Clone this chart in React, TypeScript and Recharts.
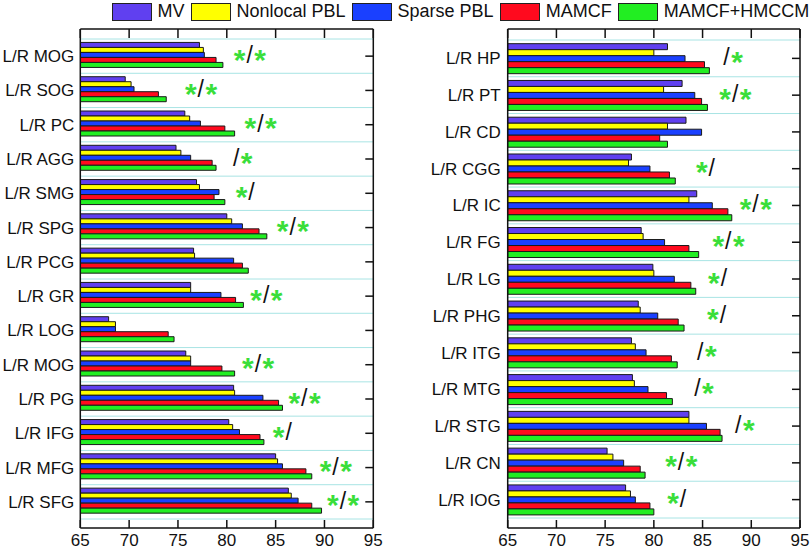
import { BarChart, Bar, XAxis, YAxis, CartesianGrid, ReferenceDot, ReferenceLine } from 'recharts';

const FONT = '"Liberation Sans", Arial, sans-serif';

const seriesNames = ['MV', 'Nonlocal PBL', 'Sparse PBL', 'MAMCF', 'MAMCF+HMCCM'];
const seriesKeys = ['mv', 'nonlocal', 'sparse', 'mamcf', 'hmccm'];
const seriesColors = ['#6040f0', '#ffff00', '#1a40ff', '#ff0a1e', '#22ee22'];

// left panel
const leftRegions = [
  'L/R MOG', 'L/R SOG', 'L/R PC', 'L/R AGG', 'L/R SMG', 'L/R SPG', 'L/R PCG',
  'L/R GR', 'L/R LOG', 'L/R MOG', 'L/R PG', 'L/R IFG', 'L/R MFG', 'L/R SFG',
];
const leftMV = [77.2, 69.6, 75.7, 74.8, 76.9, 80.0, 76.6, 76.3, 67.9, 75.8, 80.7, 80.2, 85.0, 86.3];
const leftNonlocal = [77.6, 70.2, 76.2, 75.3, 77.2, 80.5, 76.7, 76.3, 68.6, 76.3, 80.8, 80.6, 85.2, 86.6];
const leftSparse = [77.7, 70.5, 77.3, 76.3, 79.2, 81.6, 80.7, 79.4, 68.6, 76.3, 83.7, 81.3, 85.7, 87.3];
const leftMamcf = [78.9, 73.0, 79.8, 78.5, 78.7, 83.3, 81.6, 80.9, 74.0, 79.5, 85.3, 83.4, 88.1, 88.7];
const leftHmccm = [79.6, 73.8, 80.8, 78.9, 79.8, 84.1, 82.2, 81.7, 74.6, 80.8, 85.7, 83.8, 88.7, 89.7];
const leftMarks = ['*/*', '*/*', '*/*', '/*', '*/', '*/*', '', '*/*', '', '*/*', '*/*', '*/', '*/*', '*/*'];
const leftMarkAt = [80.8, 75.8, 81.9, 80.5, 81.0, 85.2, 0, 82.5, 0, 81.65, 86.4, 84.8, 89.6, 90.35];

// right panel
const rightRegions = [
  'L/R HP', 'L/R PT', 'L/R CD', 'L/R CGG', 'L/R IC', 'L/R FG', 'L/R LG',
  'L/R PHG', 'L/R ITG', 'L/R MTG', 'L/R STG', 'L/R CN', 'L/R IOG',
];
const rightMV = [81.4, 82.9, 83.3, 77.7, 84.4, 78.7, 79.9, 78.4, 77.7, 77.8, 83.6, 75.2, 77.1];
const rightNonlocal = [80.0, 81.0, 81.4, 77.4, 83.6, 78.9, 80.0, 78.6, 78.1, 78.0, 83.6, 75.8, 77.6];
const rightSparse = [83.2, 84.2, 84.9, 79.6, 86.0, 81.1, 82.1, 80.4, 79.2, 79.4, 85.4, 76.9, 78.1];
const rightMamcf = [85.2, 84.9, 80.6, 81.6, 87.6, 83.6, 83.8, 82.5, 81.8, 81.3, 86.8, 78.6, 79.6];
const rightHmccm = [85.7, 85.5, 81.4, 82.2, 88.0, 84.6, 84.3, 83.1, 82.4, 81.9, 87.0, 79.1, 80.0];
const rightMarks = ['/*', '*/*', '', '*/', '*/*', '*/*', '*/', '*/', '/*', '/*', '/*', '*/*', '*/'];
const rightMarkAt = [87.0, 86.8, 0, 84.4, 88.9, 86.1, 85.65, 85.55, 84.3, 84.0, 88.2, 81.25, 81.45];

const xTicks = [65, 70, 75, 80, 85, 90, 95];

function buildRows(regions: string[], cols: number[][]) {
  return regions.map((name, i) => {
    const row: Record<string, any> = { key: `r${i}`, name };
    seriesKeys.forEach((k, j) => (row[k] = cols[j][i]));
    return row;
  });
}

const leftRows = buildRows(leftRegions, [leftMV, leftNonlocal, leftSparse, leftMamcf, leftHmccm]);
const rightRows = buildRows(rightRegions, [rightMV, rightNonlocal, rightSparse, rightMamcf, rightHmccm]);

// inward tick marks: short stubs at both ends of a vertical reference line
function XTickStubs(p: any) {
  const top = Math.min(p.y1, p.y2);
  const bottom = Math.max(p.y1, p.y2);
  const x = p.x1;
  return (
    <g>
      <line x1={x} y1={top} x2={x} y2={top + 9} stroke="#111" strokeWidth={1.5} />
      <line x1={x} y1={bottom} x2={x} y2={bottom - 8} stroke="#111" strokeWidth={1.5} />
    </g>
  );
}

// inward tick mark on the right border at a category centre
function YTickStub(p: any) {
  const right = Math.max(p.x1, p.x2);
  const y = p.y1;
  return <line x1={right - 8} y1={y} x2={right} y2={y} stroke="#111" strokeWidth={1.5} />;
}

function Mark({ cx, cy, text }: { cx: number; cy: number; text: string }) {
  let cursor = 0;
  const parts: any[] = [];
  text.split('').forEach((ch, i) => {
    if (ch === '*') {
      parts.push(
        <text key={i} x={cx + cursor + 5} y={cy + 13.5} textAnchor="middle" fontSize={30}
          fontWeight="bold" fontFamily={FONT} fill="#3ade3a">*</text>
      );
      cursor += 10.5;
    } else {
      parts.push(
        <text key={i} x={cx + cursor + 4.5} y={cy + 7} textAnchor="middle" fontSize={23}
          fontFamily={FONT} fill="#111">/</text>
      );
      cursor += 10;
    }
  });
  return <g>{parts}</g>;
}

interface PanelProps {
  rows: Record<string, any>[];
  marks: string[];
  markAt: number[];
  left: number;
  width: number;
  axisWidth: number;
  right: number;
  padTop: number;
  padBottom: number;
  labelGap: number;
}

function Panel({ rows, marks, markAt, left, width, axisWidth, right, padTop, padBottom, labelGap }: PanelProps) {
  const names: Record<string, string> = {};
  rows.forEach(r => (names[r.key] = r.name));
  const n = rows.length;

  return (
    <div style={{ position: 'absolute', left, top: 0 }}>
      <BarChart
        width={width}
        height={554}
        data={rows}
        layout="vertical"
        margin={{ top: 29, right, bottom: 0, left: 0 }}
        barCategoryGap="10%"
        barGap={0}
      >
        <CartesianGrid
          vertical={false}
          stroke="#a8e4e4"
          strokeWidth={1}
          horizontalCoordinatesGenerator={({ offset }: any) => {
            const band = (offset.height - padTop - padBottom) / n;
            return Array.from({ length: n + 1 }, (_, i) => offset.top + padTop + i * band);
          }}
        />
        {/* labelled bottom axis */}
        <XAxis
          type="number"
          domain={[65, 95]}
          ticks={xTicks}
          allowDataOverflow
          height={26}
          tickSize={0}
          tickMargin={6}
          axisLine={{ stroke: '#111', strokeWidth: 1.5 }}
          tickLine={false}
          tick={{ fill: '#111', fontSize: 17, fontFamily: FONT }}
        />
        {/* frame: top border */}
        <XAxis
          xAxisId="top"
          orientation="top"
          mirror
          type="number"
          domain={[65, 95]}
          ticks={xTicks}
          allowDataOverflow
          height={1}
          tick={false}
          axisLine={{ stroke: '#111', strokeWidth: 1.5 }}
        />
        <YAxis
          type="category"
          dataKey="key"
          width={axisWidth}
          padding={{ top: padTop, bottom: padBottom }}
          tickLine={false}
          tickSize={labelGap}
          tickMargin={2}
          axisLine={{ stroke: '#111', strokeWidth: 1.5 }}
          interval={0}
          tickFormatter={(k: string) => names[k]}
          tick={{ fill: '#111', fontSize: 17, fontFamily: FONT }}
        />
        {/* frame: right border */}
        <YAxis
          yAxisId="r"
          orientation="right"
          mirror
          type="category"
          dataKey="key"
          width={1}
          padding={{ top: padTop, bottom: padBottom }}
          tick={false}
          axisLine={{ stroke: '#111', strokeWidth: 1.5 }}
        />
        {seriesKeys.map((k, j) => (
          <Bar
            key={k}
            dataKey={k}
            name={seriesNames[j]}
            fill={seriesColors[j]}
            stroke="#1a1a1a"
            strokeWidth={1}
            isAnimationActive={false}
          />
        ))}
        {/* empty series that keeps the frame axes alive */}
        <Bar dataKey="none" xAxisId="top" yAxisId="r" isAnimationActive={false} legendType="none" />
        {xTicks.map(t => (
          <ReferenceLine key={`xt${t}`} x={t} ifOverflow="visible" shape={XTickStubs} />
        ))}
        {rows.map(r => (
          <ReferenceLine key={`yt${r.key}`} y={r.key} ifOverflow="visible" shape={YTickStub} />
        ))}
        {rows.map((r, i) =>
          marks[i] ? (
            <ReferenceDot
              key={r.key}
              x={markAt[i]}
              y={r.key}
              r={0}
              shape={(p: any) => <Mark cx={p.cx} cy={p.cy} text={marks[i]} />}
            />
          ) : null
        )}
      </BarChart>
    </div>
  );
}

function Legend() {
  return (
    <div
      style={{
        position: 'absolute',
        left: 112,
        top: 1,
        display: 'flex',
        alignItems: 'center',
        fontFamily: FONT,
        fontSize: 18,
        color: '#111',
        whiteSpace: 'nowrap',
      }}
    >
      {seriesNames.map((s, j) => (
        <div key={s} style={{ display: 'flex', alignItems: 'center', marginRight: 6.5 }}>
          <div
            style={{
              width: 38,
              height: 16,
              background: seriesColors[j],
              border: '1px solid #222',
              marginRight: 5.5,
            }}
          />
          <span>{s}</span>
        </div>
      ))}
    </div>
  );
}

export default function App() {
  return (
    <div style={{ position: 'absolute', left: 0, top: 0, width: 810, height: 554, background: '#fff' }}>
      <Panel rows={leftRows} marks={leftMarks} markAt={leftMarkAt} left={0} width={400}
        axisWidth={80.3} right={26.7} padTop={10} padBottom={9} labelGap={4} />
      <Panel rows={rightRows} marks={rightMarks} markAt={rightMarkAt} left={400} width={410}
        axisWidth={107.7} right={10} padTop={11} padBottom={10} labelGap={5} />
      <Legend />
    </div>
  );
}
